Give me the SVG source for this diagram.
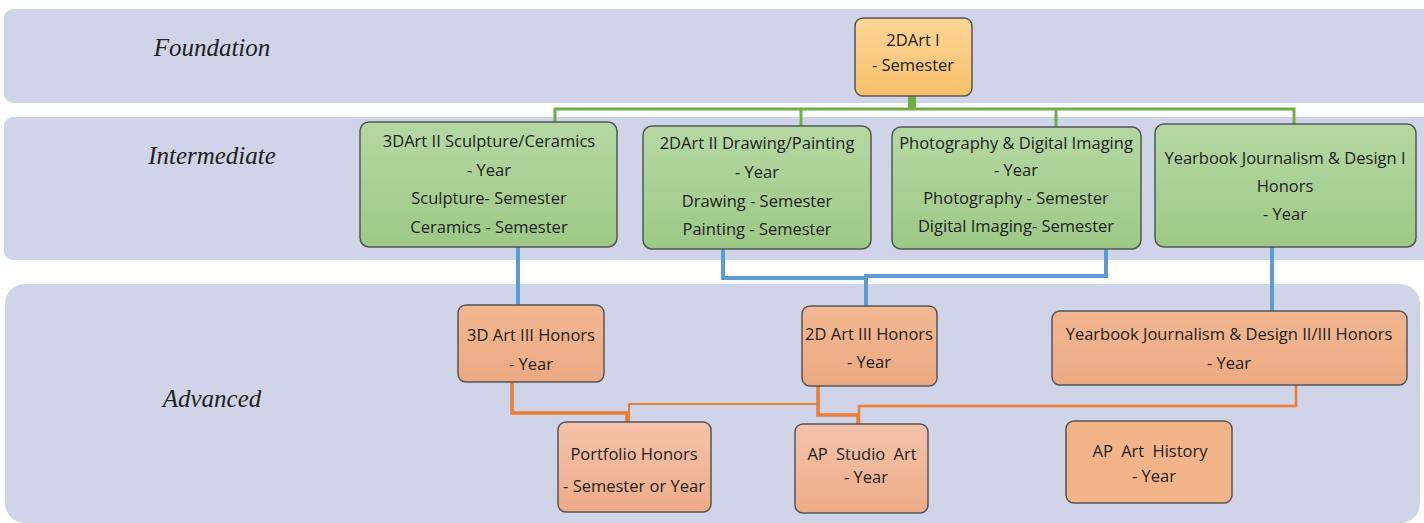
<svg xmlns="http://www.w3.org/2000/svg" width="1424" height="523" viewBox="0 0 1424 523">
<defs>
<linearGradient id="gOr" x1="0" y1="0" x2="0" y2="1"><stop offset="0" stop-color="#fdd598"/><stop offset="1" stop-color="#f8c06a"/></linearGradient>
<linearGradient id="gGr" x1="0" y1="0" x2="0" y2="1"><stop offset="0" stop-color="#b5d8a3"/><stop offset="1" stop-color="#9dc986"/></linearGradient>
<linearGradient id="gSa" x1="0" y1="0" x2="0" y2="1"><stop offset="0" stop-color="#f2b891"/><stop offset="1" stop-color="#eca981"/></linearGradient>
<linearGradient id="gSl" x1="0" y1="0" x2="0" y2="1"><stop offset="0" stop-color="#f4c3ab"/><stop offset="1" stop-color="#eeac88"/></linearGradient>
<style>
.band{fill:#cfd4e9}
.lbl{font-family:"Liberation Serif","DejaVu Serif",serif;font-style:italic;font-size:25px;fill:#222;text-anchor:middle}
.box{stroke:#555;stroke-width:1.5}
.t{font-family:"Open Sans","Liberation Sans",sans-serif;font-size:16.5px;fill:#222;text-anchor:middle}
.gl{fill:none;stroke:#6fad47;stroke-width:3}
.bl{fill:none;stroke:#5b9bd5;stroke-width:4}
.ol{fill:none;stroke:#ed7d31}
</style>
</defs>
<g id="bands">
<rect class="band" x="4" y="9" width="1430" height="94" rx="9"/>
<rect class="band" x="4" y="117" width="1430" height="143" rx="9"/>
<rect class="band" x="5" y="284" width="1415" height="239" rx="20"/>
<text class="lbl" x="212" y="56">Foundation</text>
<text class="lbl" x="212" y="164">Intermediate</text>
<text class="lbl" x="212" y="407">Advanced</text>
</g>
<g id="connectors">
<rect x="908" y="96" width="8" height="13" fill="#6fad47"/>
<polyline class="gl" points="555,123 555,109 1294,109 1294,124"/>
<line class="gl" x1="801" y1="109" x2="801" y2="126"/>
<line class="gl" x1="1056" y1="109" x2="1056" y2="127"/>
<line class="bl" x1="518" y1="247" x2="518" y2="305"/>
<polyline class="bl" points="723,249 723,278 866,278 866,276 1106,276 1106,249"/>
<line class="bl" x1="866" y1="276" x2="866" y2="306"/>
<line class="bl" x1="1272" y1="247" x2="1272" y2="311"/>
<polyline class="ol" stroke-width="3.5" points="512,382 512,413 627,413 627,422"/>
<polyline class="ol" stroke-width="2" points="818,386 818,404 629,404 629,422"/>
<polyline class="ol" stroke-width="3.5" points="818,386 818,415 858,415 858,424"/>
<polyline class="ol" stroke-width="2.5" points="1296,385 1296,406 859,406 859,424"/>
</g>
<g id="n-2dart1">
<rect class="box" x="855" y="18" width="117" height="78" rx="8" fill="url(#gOr)"/>
<text class="t" x="913" y="46">2DArt I</text>
<text class="t" x="913" y="71">- Semester</text>
</g>
<g id="n-3dart2">
<rect class="box" x="360" y="122" width="257" height="125" rx="9" fill="url(#gGr)"/>
<text class="t" x="489" y="147">3DArt II Sculpture/Ceramics</text>
<text class="t" x="489" y="176">- Year</text>
<text class="t" x="489" y="204">Sculpture- Semester</text>
<text class="t" x="489" y="233">Ceramics - Semester</text>
</g>
<g id="n-2dart2">
<rect class="box" x="643" y="126" width="228" height="123" rx="9" fill="url(#gGr)"/>
<text class="t" x="757" y="149">2DArt II Drawing/Painting</text>
<text class="t" x="757" y="178">- Year</text>
<text class="t" x="757" y="207">Drawing - Semester</text>
<text class="t" x="757" y="235">Painting - Semester</text>
</g>
<g id="n-photo">
<rect class="box" x="892" y="127" width="249" height="122" rx="9" fill="url(#gGr)"/>
<text class="t" x="1016" y="149">Photography &amp; Digital Imaging</text>
<text class="t" x="1016" y="176">- Year</text>
<text class="t" x="1016" y="204">Photography - Semester</text>
<text class="t" x="1016" y="232">Digital Imaging- Semester</text>
</g>
<g id="n-yb1">
<rect class="box" x="1155" y="124" width="261" height="123" rx="9" fill="url(#gGr)"/>
<text class="t" x="1285" y="164">Yearbook Journalism &amp; Design I</text>
<text class="t" x="1285" y="192">Honors</text>
<text class="t" x="1285" y="220">- Year</text>
</g>
<g id="n-3dart3">
<rect class="box" x="458" y="305" width="146" height="77" rx="8" fill="url(#gSa)"/>
<text class="t" x="531" y="341">3D Art III Honors</text>
<text class="t" x="531" y="370">- Year</text>
</g>
<g id="n-2dart3">
<rect class="box" x="802" y="306" width="135" height="80" rx="8" fill="url(#gSa)"/>
<text class="t" x="869" y="340">2D Art III Honors</text>
<text class="t" x="869" y="368">- Year</text>
</g>
<g id="n-yb2">
<rect class="box" x="1052" y="311" width="355" height="74" rx="8" fill="url(#gSa)"/>
<text class="t" x="1229" y="340">Yearbook Journalism &amp; Design II/III Honors</text>
<text class="t" x="1229" y="369">- Year</text>
</g>
<g id="n-portfolio">
<rect class="box" x="558" y="422" width="153" height="90" rx="8" fill="url(#gSl)"/>
<text class="t" x="634" y="460">Portfolio Honors</text>
<text class="t" x="634" y="492">- Semester or Year</text>
</g>
<g id="n-apstudio">
<rect class="box" x="795" y="424" width="133" height="89" rx="8" fill="url(#gSl)"/>
<text class="t" x="862" y="460" word-spacing="4">AP Studio Art</text>
<text class="t" x="866" y="483">- Year</text>
</g>
<g id="n-aphist">
<rect class="box" x="1066" y="421" width="166" height="82" rx="8" fill="#f3b48a" stroke-width="1"/>
<text class="t" x="1150" y="457" word-spacing="4">AP Art History</text>
<text class="t" x="1154" y="482">- Year</text>
</g>
</svg>
